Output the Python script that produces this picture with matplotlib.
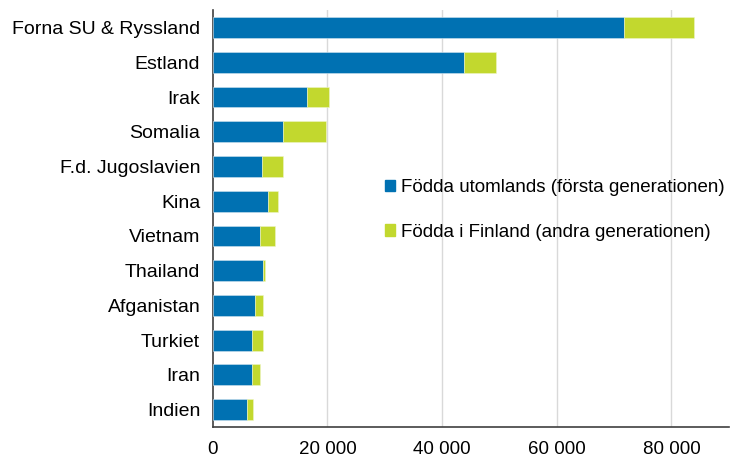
import matplotlib
matplotlib.use("Agg")
import matplotlib.pyplot as plt
from matplotlib.ticker import FuncFormatter
from matplotlib.patches import Patch

plt.rcParams['font.family'] = ['Liberation Sans', 'DejaVu Sans']

countries = ["Forna SU & Ryssland", "Estland", "Irak", "Somalia", "F.d. Jugoslavien",
             "Kina", "Vietnam", "Thailand", "Afganistan", "Turkiet", "Iran", "Indien"]
first_gen = [71800, 43800, 16400, 12200, 8600, 9700, 8300, 8850, 7400, 6900, 6900, 6050]
second_gen = [12100, 5600, 3900, 7500, 3600, 1600, 2500, 250, 1400, 1900, 1400, 1050]
xticks = [0, 20000, 40000, 60000, 80000]
legend_labels = ["Födda utomlands (första generationen)", "Födda i Finland (andra generationen)"]

blue = "#0071B2"
green = "#C2D82E"

fig = plt.figure(figsize=(7.31, 4.59), dpi=100)
ax = fig.add_axes([0.291, 0.0697, 0.706, 0.908])

y = list(range(len(countries)))
ax.barh(y, first_gen, height=0.6, color=blue, edgecolor="#cfe3ef", linewidth=0.4, zorder=3)
ax.barh(y, second_gen, left=first_gen, height=0.6, color=green, edgecolor="#eef5c8", linewidth=0.4, zorder=3)

ax.set_ylim(11.5, -0.5)
ax.set_xlim(0, 90000)
ax.set_yticks(y)
ax.set_yticklabels(countries, fontsize=14)
ax.set_xticks(xticks)
ax.xaxis.set_major_formatter(FuncFormatter(lambda v, p: f"{int(v):,}".replace(",", " ")))
ax.tick_params(axis='x', labelsize=13.5, length=0, pad=10)
ax.tick_params(axis='y', length=0, pad=9)

for s in ["top", "right"]:
    ax.spines[s].set_visible(False)
for s in ["left", "bottom"]:
    ax.spines[s].set_color("#404040")
    ax.spines[s].set_linewidth(1.2)
ax.grid(axis='x', color="#d9d9d9", linewidth=1, zorder=0)
ax.set_axisbelow(True)
for gl in ax.get_xgridlines()[:1]:
    gl.set_visible(False)

handles = [Patch(color=blue), Patch(color=green)]
ax.legend(handles, legend_labels, loc="upper left", bbox_to_anchor=(0.333, 0.594),
          frameon=False, fontsize=13.5, handlelength=0.55, handleheight=0.55,
          handletextpad=0.35, labelspacing=1.45, borderaxespad=0, borderpad=0)

fig.savefig("out.png", dpi=100)
